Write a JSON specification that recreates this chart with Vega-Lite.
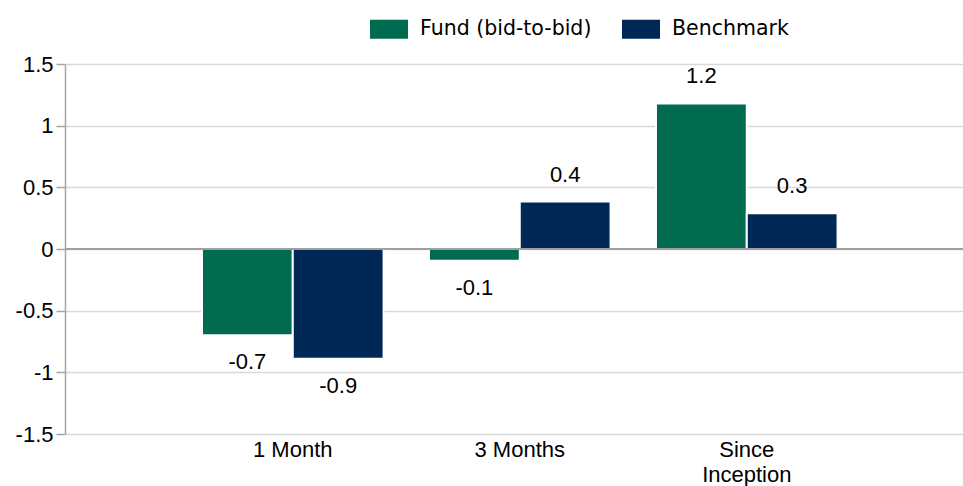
{
  "$schema": "https://vega.github.io/schema/vega-lite/v6.json",
  "autosize": {"type": "none"},
  "width": 898,
  "height": 370,
  "padding": {"left": 65, "top": 64, "right": 0, "bottom": 52},
  "background": "white",
  "config": {
    "view": {"stroke": null},
    "font": "Liberation Sans",
    "locale": {
      "number": {
        "decimal": ".",
        "thousands": ",",
        "grouping": [3],
        "currency": ["$", ""],
        "minus": "-"
      }
    }
  },
  "data": {
    "values": [
      {"period": "1 Month", "series": "Fund (bid-to-bid)", "value": -0.7},
      {"period": "1 Month", "series": "Benchmark", "value": -0.89},
      {"period": "3 Months", "series": "Fund (bid-to-bid)", "value": -0.095},
      {"period": "3 Months", "series": "Benchmark", "value": 0.385},
      {"period": "Since Inception", "series": "Fund (bid-to-bid)", "value": 1.18},
      {"period": "Since Inception", "series": "Benchmark", "value": 0.29}
    ]
  },
  "encoding": {
    "x": {
      "field": "period",
      "type": "nominal",
      "sort": ["1 Month", "3 Months", "Since Inception"],
      "scale": {"paddingInner": 0.2, "paddingOuter": 0.578, "align": 0.522},
      "axis": {
        "title": null,
        "labelAngle": 0,
        "domain": false,
        "ticks": false,
        "grid": false,
        "labelFont": "Liberation Sans",
        "labelFontSize": 22,
        "labelColor": "#000000",
        "labelPadding": 5,
        "labelLineHeight": 25,
        "labelExpr": "datum.value == 'Since Inception' ? ['Since', 'Inception'] : datum.value"
      }
    },
    "xOffset": {
      "field": "series",
      "type": "nominal",
      "sort": ["Fund (bid-to-bid)", "Benchmark"],
      "scale": {"paddingInner": 0, "paddingOuter": 0}
    }
  },
  "layer": [
    {
      "mark": {"type": "bar", "stroke": "white", "strokeWidth": 2},
      "encoding": {
        "y": {
          "field": "value",
          "type": "quantitative",
          "scale": {"domain": [-1.5, 1.5], "nice": false},
          "axis": {
            "title": null,
            "values": [-1.5, -1, -0.5, 0, 0.5, 1, 1.5],
            "format": "~g",
            "grid": true,
            "gridColor": "#d9d9d9",
            "gridWidth": 1.5,
            "domain": true,
            "domainColor": "#a6a6a6",
            "domainWidth": 1.5,
            "ticks": true,
            "tickColor": "#a6a6a6",
            "tickSize": 9,
            "tickWidth": 1.5,
            "labelFont": "Liberation Sans",
            "labelFontSize": 22,
            "labelColor": "#000000",
            "labelPadding": 3
          }
        },
        "color": {
          "field": "series",
          "type": "nominal",
          "sort": ["Fund (bid-to-bid)", "Benchmark"],
          "scale": {"domain": ["Fund (bid-to-bid)", "Benchmark"], "range": ["#006b4e", "#002856"]},
          "legend": {
            "title": null,
            "orient": "none",
            "direction": "horizontal",
            "legendX": 305,
            "legendY": -54,
            "padding": 0,
            "symbolType": "M-1,-0.5H1V0.5H-1Z",
            "symbolSize": 1444,
            "symbolStrokeWidth": 0,
            "symbolOpacity": 1,
            "labelFont": "DejaVu Sans",
            "labelFontSize": 20.5,
            "labelColor": "#000000",
            "labelOffset": 12,
            "labelLimit": 400,
            "columnPadding": 30
          }
        }
      }
    },
    {
      "data": {"values": [{"z": 0}]},
      "mark": {"type": "rule", "color": "#a0a0a0", "strokeWidth": 2},
      "encoding": {
        "y": {"field": "z", "type": "quantitative"},
        "x": {"value": 0},
        "x2": {"value": 898},
        "xOffset": null
      }
    },
    {
      "transform": [{"filter": "datum.value >= 0"}],
      "mark": {"type": "text", "dy": -27, "fontSize": 22, "font": "Liberation Sans", "color": "#000000"},
      "encoding": {
        "y": {"field": "value", "type": "quantitative"},
        "text": {"field": "value", "type": "quantitative", "format": ".1f"}
      }
    },
    {
      "transform": [{"filter": "datum.value < 0"}],
      "mark": {"type": "text", "dy": 27, "fontSize": 22, "font": "Liberation Sans", "color": "#000000"},
      "encoding": {
        "y": {"field": "value", "type": "quantitative"},
        "text": {"field": "value", "type": "quantitative", "format": ".1f"}
      }
    }
  ]
}
